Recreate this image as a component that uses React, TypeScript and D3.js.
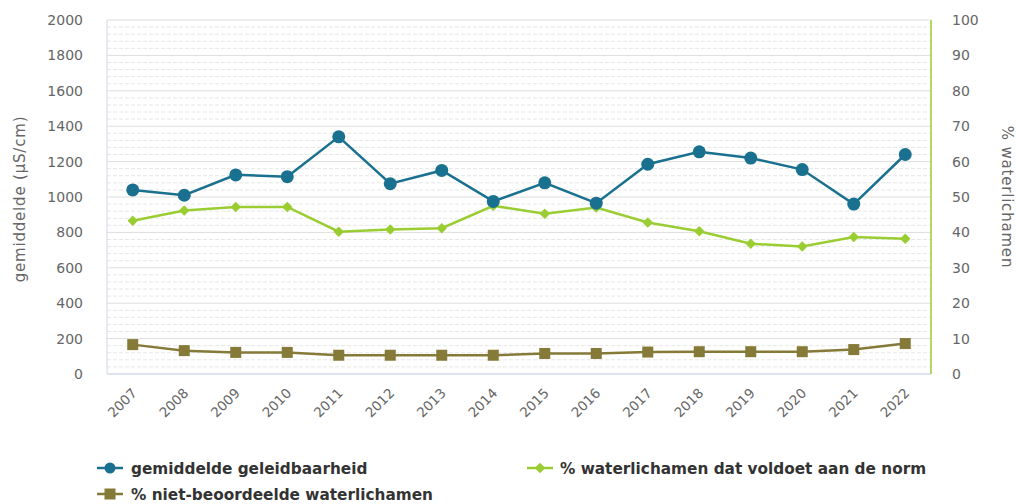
import React from "react";
import * as d3 from "d3";

const years = ["2007", "2008", "2009", "2010", "2011", "2012", "2013", "2014", "2015", "2016", "2017", "2018", "2019", "2020", "2021", "2022"];
const geleidbaarheid = [1040, 1010, 1125, 1115, 1340, 1075, 1150, 975, 1080, 965, 1185, 1255, 1220, 1155, 960, 1240];
const voldoet = [43.3, 46.2, 47.2, 47.2, 40.2, 40.8, 41.2, 47.5, 45.3, 47, 42.8, 40.3, 36.8, 36, 38.7, 38.2];
const nietBeoordeeld = [8.3, 6.6, 6.1, 6.1, 5.3, 5.3, 5.3, 5.3, 5.8, 5.8, 6.2, 6.3, 6.3, 6.3, 6.9, 8.6];
const leftTicks = [0, 200, 400, 600, 800, 1000, 1200, 1400, 1600, 1800, 2000];
const rightTicks = [0, 10, 20, 30, 40, 50, 60, 70, 80, 90, 100];

const W = 1016, H = 504;
const left = 107, right = 931, top = 20, bottom = 374;
const BLUE = "#19718f", GREEN = "#9acd32", BROWN = "#857a38", TXT = "#666";
const FONT = "'DejaVu Sans', Verdana, sans-serif";

export default function App() {
  const x = d3.scaleBand().domain(years).range([left, right]);
  const yL = d3.scaleLinear().domain([0, 2000]).range([bottom, top]);
  const yR = d3.scaleLinear().domain([0, 100]).range([bottom, top]);
  const cx = (i: number) => x(years[i])! + x.bandwidth() / 2;

  const lineL = d3.line<number>().x((_, i) => cx(i)).y((d) => yL(d));
  const lineR = d3.line<number>().x((_, i) => cx(i)).y((d) => yR(d));
  const minor = d3.range(0, 2001, 40).filter((v) => v % 200 !== 0);
  const diamond = d3.symbol(d3.symbolDiamond2, 70)()!;

  return (
    <svg width={W} height={H} style={{ position: "absolute", left: 0, top: 0 }} fontFamily={FONT}>
      <rect width={W} height={H} fill="#fff" />
      {/* minor dashed grid */}
      {minor.map((v) => (
        <line key={"m" + v} x1={left} x2={right} y1={yL(v)} y2={yL(v)} stroke="#e6e6e6" strokeDasharray="4,2" />
      ))}
      {leftTicks.map((v) => (
        <line key={"g" + v} x1={left} x2={right} y1={yL(v)} y2={yL(v)} stroke="#dedede" strokeWidth={1} />
      ))}
      <line x1={left} x2={left} y1={top} y2={bottom} stroke="#ccd6eb" />
      <line x1={left} x2={right} y1={bottom} y2={bottom} stroke="#ccd6eb" />
      <line x1={right} x2={right} y1={top} y2={bottom} stroke={GREEN} strokeWidth={1.5} />

      {leftTicks.map((v) => (
        <text key={"l" + v} x={83} y={yL(v) + 5} textAnchor="end" fontSize={14} fill={TXT}>{v}</text>
      ))}
      {rightTicks.map((v) => (
        <text key={"r" + v} x={952} y={yR(v) + 5} textAnchor="start" fontSize={14} fill={TXT}>{v}</text>
      ))}
      {years.map((yr, i) => (
        <text key={yr} transform={`translate(${cx(i) + 5},${bottom + 20}) rotate(-45)`} textAnchor="end" fontSize={13.5} fill={TXT}>{yr}</text>
      ))}
      <text transform={`translate(25,${(top + bottom) / 2 + 2}) rotate(-90)`} textAnchor="middle" fontSize={15} letterSpacing={0.8} fill={TXT}>gemiddelde (µS/cm)</text>
      <text transform={`translate(1002,${(top + bottom) / 2}) rotate(90)`} textAnchor="middle" fontSize={15} letterSpacing={0.8} fill={TXT}>% waterlichamen</text>

      <path d={lineR(nietBeoordeeld)!} fill="none" stroke={BROWN} strokeWidth={2.5} />
      {nietBeoordeeld.map((v, i) => (
        <rect key={"b" + i} x={cx(i) - 5.5} y={yR(v) - 5.5} width={11} height={11} fill={BROWN} />
      ))}
      <path d={lineR(voldoet)!} fill="none" stroke={GREEN} strokeWidth={2.5} />
      {voldoet.map((v, i) => (
        <path key={"g" + i} d={diamond} transform={`translate(${cx(i)},${yR(v)})`} fill={GREEN} />
      ))}
      <path d={lineL(geleidbaarheid)!} fill="none" stroke={BLUE} strokeWidth={2.5} />
      {geleidbaarheid.map((v, i) => (
        <circle key={"c" + i} cx={cx(i)} cy={yL(v)} r={6.5} fill={BLUE} />
      ))}

      {/* legend */}
      <g fontFamily={FONT} fontWeight="bold" fontSize={15.3} fill="#333">
        <line x1={97} x2={123} y1={468} y2={468} stroke={BLUE} strokeWidth={2.5} />
        <circle cx={110} cy={468} r={5.5} fill={BLUE} />
        <text x={131} y={473.5}>gemiddelde geleidbaarheid</text>
        <line x1={527} x2={553} y1={468} y2={468} stroke={GREEN} strokeWidth={2.5} />
        <path d={diamond} transform="translate(540,468)" fill={GREEN} />
        <text x={560} y={473.5}>% waterlichamen dat voldoet aan de norm</text>
        <line x1={97} x2={123} y1={494} y2={494} stroke={BROWN} strokeWidth={2.5} />
        <rect x={104.5} y={488.5} width={11} height={11} fill={BROWN} />
        <text x={131} y={499.5}>% niet-beoordeelde waterlichamen</text>
      </g>
    </svg>
  );
}
